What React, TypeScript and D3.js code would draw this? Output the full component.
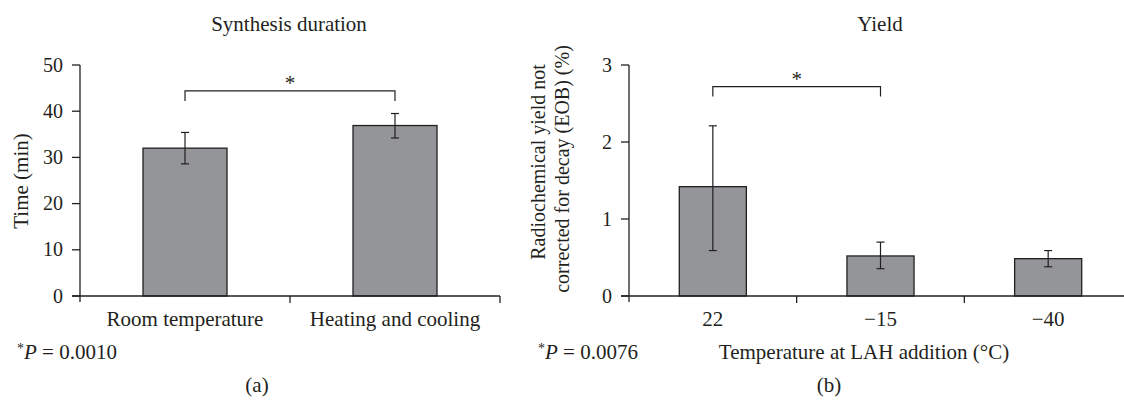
import * as d3 from "d3";

// panel (a): synthesis duration
const durationCategories = ["Room temperature", "Heating and cooling"];
const durationMeans = [32.0, 36.9];
const durationLow = [28.6, 34.2];
const durationHigh = [35.4, 39.5];
const durationTicks = [0, 10, 20, 30, 40, 50];
const durationSigPair = [0, 1];
const durationSigLevels = [44.4, 42.2];

// panel (b): yield
const yieldCategories = ["22", "\u221215", "\u221240"];
const yieldMeans = [1.42, 0.52, 0.485];
const yieldLow = [0.59, 0.355, 0.38];
const yieldHigh = [2.21, 0.7, 0.59];
const yieldTicks = [0, 1, 2, 3];
const yieldSigPair = [0, 1];
const yieldSigLevels = [2.72, 2.59];

const W = 1124;
const H = 404;
const ink = "#231f20";
const barFill = "#939598";
const font = "'Liberation Serif', 'Times New Roman', serif";

type PanelProps = {
  cats: string[];
  means: number[];
  low: number[];
  high: number[];
  ticks: number[];
  sigPair: number[];
  sigLevels: number[];
  x0: number;
  x1: number;
  yMax: number;
};

function Panel({ cats, means, low, high, ticks, sigPair, sigLevels, x0, x1, yMax }: PanelProps) {
  const top = 65;
  const bottom = 296;
  const x = d3.scaleBand<string>().domain(cats).range([x0, x1]).padding(0);
  const y = d3.scaleLinear().domain([0, yMax]).range([bottom, top]);
  const bw = x.bandwidth() * 0.4;
  const cx = (i: number) => (x(cats[i]) ?? 0) + x.bandwidth() / 2;
  const cap = 4;

  const bx1 = cx(sigPair[0]);
  const bx2 = cx(sigPair[1]);
  const by = y(sigLevels[0]);
  const byEnd = y(sigLevels[1]);

  return (
    <g>
      {/* bars */}
      {cats.map((c, i) => (
        <rect
          key={c}
          x={cx(i) - bw / 2}
          y={y(means[i])}
          width={bw}
          height={bottom - y(means[i])}
          fill={barFill}
          stroke={ink}
          strokeWidth={1.3}
        />
      ))}
      {/* error bars */}
      {cats.map((c, i) => (
        <g key={"e" + c} stroke={ink} strokeWidth={1.2}>
          <line x1={cx(i)} x2={cx(i)} y1={y(high[i])} y2={y(low[i])} />
          <line x1={cx(i) - cap} x2={cx(i) + cap} y1={y(high[i])} y2={y(high[i])} />
          <line x1={cx(i) - cap} x2={cx(i) + cap} y1={y(low[i])} y2={y(low[i])} />
        </g>
      ))}
      {/* axes */}
      <line x1={x0} x2={x0} y1={top} y2={bottom + 6} stroke={ink} strokeWidth={1.3} />
      <line x1={x0 - 8} x2={x1} y1={bottom} y2={bottom} stroke={ink} strokeWidth={1.3} />
      {ticks.map((t) => (
        <g key={t}>
          <line x1={x0 - 8} x2={x0} y1={y(t)} y2={y(t)} stroke={ink} strokeWidth={1.3} />
          <text
            x={x0 - 17}
            y={y(t) + 6.5}
            textAnchor="end"
            fontSize={20}
            fill={ink}
          >
            {t}
          </text>
        </g>
      ))}
      {cats.slice(1).map((c) => (
        <line
          key={"t" + c}
          x1={x(c)}
          x2={x(c)}
          y1={bottom}
          y2={bottom + 7}
          stroke={ink}
          strokeWidth={1.3}
        />
      ))}
      <line x1={x1} x2={x1} y1={bottom} y2={bottom + 7} stroke={ink} strokeWidth={1.3} />
      {cats.map((c, i) => (
        <text key={"l" + c} x={cx(i)} y={326} textAnchor="middle" fontSize={21} fill={ink}>
          {c}
        </text>
      ))}
      {/* significance bracket */}
      <path
        d={`M${bx1},${byEnd}V${by}H${bx2}V${byEnd}`}
        fill="none"
        stroke={ink}
        strokeWidth={1.2}
      />
      <text x={(bx1 + bx2) / 2} y={by - 1} textAnchor="middle" fontSize={21} fill={ink}>
        *
      </text>
    </g>
  );
}

export default function App() {
  return (
    <div style={{ position: "fixed", left: 0, top: 0, width: W, height: H, background: "#fff" }}>
      <svg width={W} height={H} fontFamily={font} style={{ display: "block" }}>
        <rect width={W} height={H} fill="#fff" />
        <text x={289} y={31} textAnchor="middle" fontSize={21} fill={ink}>
          Synthesis duration
        </text>
        <text x={880} y={31} textAnchor="middle" fontSize={21} fill={ink}>
          Yield
        </text>

        <Panel
          cats={durationCategories}
          means={durationMeans}
          low={durationLow}
          high={durationHigh}
          ticks={durationTicks}
          sigPair={durationSigPair}
          sigLevels={durationSigLevels}
          x0={80}
          x1={500}
          yMax={50}
        />
        <Panel
          cats={yieldCategories}
          means={yieldMeans}
          low={yieldLow}
          high={yieldHigh}
          ticks={yieldTicks}
          sigPair={yieldSigPair}
          sigLevels={yieldSigLevels}
          x0={629}
          x1={1132}
          yMax={3}
        />

        {/* y labels */}
        <text
          transform="translate(28,181) rotate(-90)"
          textAnchor="middle"
          fontSize={21}
          fill={ink}
        >
          Time (min)
        </text>
        <text
          transform="translate(545,162) rotate(-90)"
          textAnchor="middle"
          fontSize={20}
          fill={ink}
        >
          Radiochemical yield not
        </text>
        <text
          transform="translate(569,169) rotate(-90)"
          textAnchor="middle"
          fontSize={20}
          fill={ink}
        >
          corrected for decay (EOB) (%)
        </text>

        <text x={864} y={359} textAnchor="middle" fontSize={21} fill={ink}>
          Temperature at LAH addition (°C)
        </text>

        {/* footnotes */}
        <text x={17} y={359} fontSize={21} fill={ink}>
          <tspan fontSize={14} dy={-6}>*</tspan>
          <tspan fontStyle="italic" dy={6}>P</tspan>
          <tspan> = 0.0010</tspan>
        </text>
        <text x={538} y={359} fontSize={21} fill={ink}>
          <tspan fontSize={14} dy={-6}>*</tspan>
          <tspan fontStyle="italic" dy={6}>P</tspan>
          <tspan> = 0.0076</tspan>
        </text>

        <text x={257} y={392} textAnchor="middle" fontSize={21} fill={ink}>
          (a)
        </text>
        <text x={829} y={392} textAnchor="middle" fontSize={21} fill={ink}>
          (b)
        </text>
      </svg>
    </div>
  );
}
